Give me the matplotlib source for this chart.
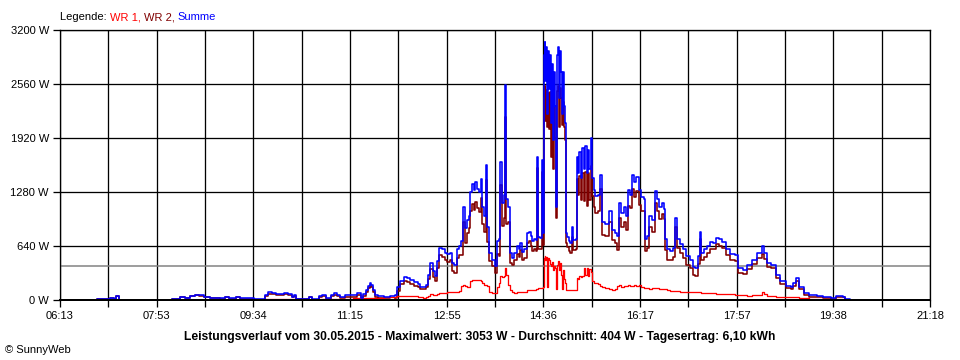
import matplotlib
matplotlib.use("Agg")
import matplotlib.pyplot as plt
import numpy as np

# ---- data (minutes since midnight, watts) ----
zeit = [405, 411, 420, 425, 429, 431, 434, 490, 498, 503, 508, 513, 518, 523, 529, 539, 545, 549, 556, 560,
        570, 575, 581, 586, 589, 594, 598, 603, 606, 610, 614, 616, 619, 630, 632, 635, 642, 646, 650, 655,
        658, 661, 664, 669, 678, 682, 686, 688, 691, 693, 695, 697, 699, 701, 704, 710, 716, 721, 724, 727,
        731, 734, 737, 741, 745, 748, 751, 754, 756, 758, 761, 763, 765, 767, 770, 773, 776, 779, 781, 783,
        786, 788, 790, 792, 794, 796, 798, 800, 802, 804, 805, 807, 809, 811, 812, 814, 816, 817, 819, 822,
        825, 826, 828, 830, 831, 833, 835, 836, 837, 839, 841, 843, 845, 848, 850, 852, 854, 856, 859, 861,
        863, 864, 866, 868, 869, 870, 872, 874, 875, 876, 877, 878, 879, 880, 881, 882, 883, 884, 885, 886,
        887, 888, 889, 890, 891, 892, 893, 894, 895, 896, 897, 898, 899, 900, 902, 904, 906, 907, 910, 911,
        912, 913, 915, 916, 918, 919, 921, 922, 923, 925, 926, 928, 930, 933, 935, 937, 940, 944, 947, 950,
        952, 954, 957, 960, 962, 964, 966, 968, 970, 972, 975, 977, 980, 982, 984, 986, 989, 992, 994, 996,
        999, 1001, 1002, 1004, 1008, 1011, 1013, 1015, 1018, 1021, 1024, 1028, 1031, 1034, 1037, 1039, 1040, 1043, 1046, 1049,
        1052, 1055, 1058, 1062, 1066, 1070, 1075, 1078, 1083, 1088, 1093, 1098, 1103, 1105, 1108, 1113, 1118, 1122, 1128, 1133,
        1136, 1139, 1142, 1147, 1152, 1160, 1167, 1175, 1180, 1187, 1190, 1195]

summe = [0, 10, 10, 20, 15, 45, 0, 15, 30, 25, 45, 60, 55, 40, 25, 20, 40, 20, 35, 20,
         20, 10, 10, 60, 90, 85, 70, 75, 85, 70, 40, 55, 15, 15, 40, 10, 45, 60, 25, 65,
         80, 60, 30, 55, 60, 80, 20, 70, 120, 170, 205, 180, 120, 60, 45, 40, 45, 65, 150, 230,
         275, 260, 235, 215, 190, 160, 150, 180, 300, 440, 340, 290, 460, 620, 600, 560, 540, 560, 440, 420,
         600, 640, 700, 1100, 850, 950, 1000, 1280, 1380, 1300, 1400, 1320, 1280, 1440, 1100, 990, 1600, 860, 560, 480,
         430, 400, 700, 720, 1640, 1150, 1250, 2550, 1200, 1100, 560, 500, 560, 640, 600, 680, 570, 600, 790, 810,
         760, 700, 720, 710, 1700, 750, 740, 1660, 800, 2900, 3053, 2600, 3000, 2200, 2950, 2500, 2900, 2100, 2800, 1900,
         2700, 2300, 1100, 2900, 3000, 2400, 2950, 2700, 2200, 2700, 2300, 2100, 800, 750, 700, 680, 870, 710, 720, 1700,
         1500, 1750, 1450, 1800, 1550, 1820, 1500, 1780, 1550, 1920, 1450, 1300, 1230, 1250, 1480, 920, 900, 1060, 830, 800,
         760, 1150, 1030, 1100, 1000, 1300, 1250, 1480, 1400, 1460, 1300, 1220, 1200, 720, 760, 1000, 950, 1290, 1200, 1100,
         1150, 1080, 720, 600, 580, 620, 970, 720, 660, 600, 520, 480, 390, 380, 520, 810, 560, 600, 640, 690,
         680, 740, 720, 690, 600, 540, 530, 380, 360, 420, 480, 560, 640, 560, 440, 420, 300, 220, 170, 160,
         200, 260, 150, 85, 55, 50, 30, 25, 45, 40, 10, 0]

wr1 = [0, 0, 0, 0, 0, 0, 0, 0, 0, 0, 0, 5, 5, 5, 5, 5, 5, 5, 5, 5,
       5, 5, 5, 10, 15, 15, 15, 15, 15, 15, 10, 10, 5, 5, 5, 5, 10, 10, 10, 15,
       15, 15, 10, 15, 20, 20, 15, 20, 20, 25, 25, 25, 25, 20, 20, 30, 40, 40, 45, 45,
       50, 50, 50, 50, 40, 30, 25, 30, 50, 70, 65, 65, 75, 85, 85, 85, 90, 90, 95, 95,
       100, 110, 170, 180, 170, 150, 150, 230, 240, 235, 240, 235, 240, 230, 200, 180, 180, 170, 100, 80,
       80, 80, 160, 200, 280, 270, 280, 380, 300, 180, 120, 90, 85, 90, 90, 90, 95, 100, 115, 115,
       115, 115, 120, 130, 135, 140, 140, 140, 150, 500, 520, 480, 510, 150, 500, 470, 430, 400, 450, 350,
       400, 380, 130, 420, 460, 350, 440, 300, 130, 350, 250, 200, 120, 120, 120, 120, 120, 120, 120, 260,
       250, 280, 270, 290, 380, 300, 380, 280, 370, 330, 220, 200, 200, 190, 170, 150, 140, 130, 120, 130,
       170, 175, 160, 170, 170, 180, 165, 170, 175, 165, 175, 160, 140, 140, 140, 135, 140, 140, 140, 135,
       130, 125, 125, 120, 110, 110, 110, 105, 100, 100, 100, 95, 90, 90, 90, 90, 85, 85, 80, 80,
       80, 75, 75, 70, 70, 70, 65, 60, 55, 50, 55, 65, 90, 70, 50, 45, 40, 35, 30, 30,
       30, 35, 25, 20, 15, 15, 12, 10, 10, 8, 5, 0]

durchschnitt = 404
x_start, x_end = 373, 1278          # 06:13 .. 21:18
x_labels = ["06:13", "07:53", "09:34", "11:15", "12:55", "14:36", "16:17", "17:57", "19:38", "21:18"]
y_ticks = [0, 640, 1280, 1920, 2560, 3200]

zeit_a = np.array(zeit)
summe_a = np.array(summe, dtype=float)
wr1_a = np.array(wr1, dtype=float)
wr2_a = summe_a - wr1_a

plt.rcParams["font.family"] = ["Liberation Sans", "DejaVu Sans"]
PX = 0.72  # one pixel in points at dpi 100
fig = plt.figure(figsize=(9.6, 3.6), dpi=100)
fig.patch.set_facecolor("white")
ax = fig.add_axes([60 / 960, 60 / 360, 870 / 960, 270 / 360])

ax.plot(zeit_a, wr2_a, drawstyle="steps-post", color="#800000", lw=1.6 * PX, zorder=3)
ax.plot(zeit_a, wr1_a, drawstyle="steps-post", color="#ff0000", lw=1.3 * PX, zorder=4)
ax.plot(zeit_a, summe_a, drawstyle="steps-post", color="#0000ff", lw=1.6 * PX, zorder=5)
ax.axhline(durchschnitt, color="#808080", lw=1.5 * PX, zorder=2)

ax.set_xlim(x_start, x_end)
ax.set_ylim(0, 3200)

grid_x = np.linspace(x_start, x_end, 19)
ax.set_xticks(grid_x)
labels = []
for i in range(len(grid_x)):
    labels.append(x_labels[i // 2] if i % 2 == 0 else "")
ax.set_xticklabels(labels)
ax.set_yticks(y_ticks)
ax.set_yticklabels([f"{v} W" for v in y_ticks])
for g in grid_x:
    ax.axvline(g, color="black", lw=1.3 * PX, zorder=1)
for v in y_ticks:
    ax.axhline(v, color="black", lw=1.3 * PX, zorder=1)

ax.tick_params(axis="both", direction="out", length=5, width=1.3 * PX, color="black",
               labelsize=8, pad=3)
for s in ax.spines.values():
    s.set_linewidth(1.3 * PX)
    s.set_color("black")
ax.spines["bottom"].set_linewidth(2 * PX)
ax.spines["bottom"].set_zorder(6)

fig.text(480 / 960, 1 - 337 / 360,
         "Leistungsverlauf vom 30.05.2015 - Maximalwert: 3053 W - Durchschnitt: 404 W - Tagesertrag: 6,10 kWh",
         ha="center", va="center", fontsize=8.7, fontweight="bold")
fig.text(5 / 960, 1 - 350 / 360, "© SunnyWeb", ha="left", va="center", fontsize=8)

# legend as coloured text pieces
renderer = fig.canvas.get_renderer()
x = 60 / 960
y = 1 - 17 / 360
for txt, col in [("Legende: ", "black"), ("WR 1, ", "#ff0000"), ("WR 2, ", "#800000"), ("Summe", "#0000ff")]:
    t = fig.text(x, y, txt, color=col, fontsize=8, ha="left", va="center")
    bb = t.get_window_extent(renderer=renderer)
    x += bb.width / fig.bbox.width

fig.savefig("out.png", dpi=100)
